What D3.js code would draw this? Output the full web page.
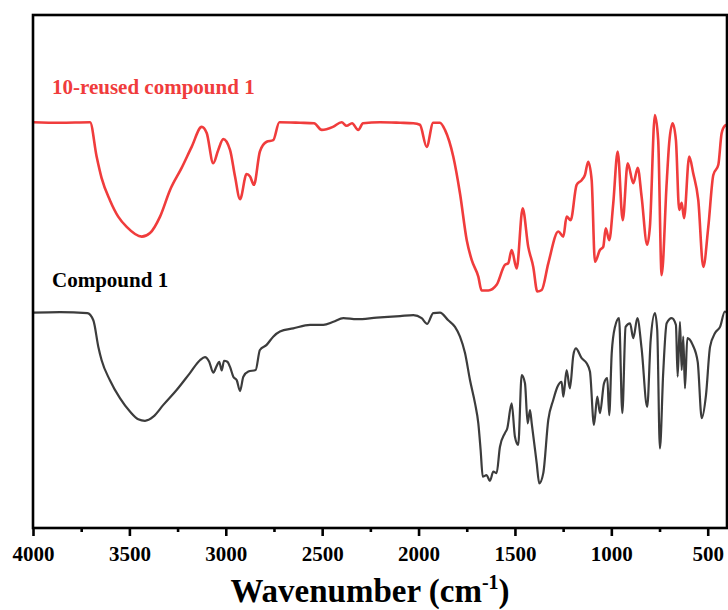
<!DOCTYPE html>
<html>
<head>
<meta charset="utf-8">
<script src="https://cdn.jsdelivr.net/npm/d3@7"></script>
<style>
  body { margin: 0; background: #fff; }
  text { font-family: "Liberation Serif", "Times New Roman", serif; font-weight: bold; }
</style>
</head>
<body>
<svg id="chart" width="728" height="610"></svg>
<script>
// wavenumber (cm-1), transmittance (a.u., offset)
var reusedSpectrum = [
  [4000,79.1],[3860,79.0],[3704,79.1],[3670,72.4],[3644,68.2],[3601,63.9],[3558,60.7],
  [3514,58.7],[3436,56.8],[3393,57.5],[3341,60.7],[3289,65.9],[3229,70.2],[3177,74.3],
  [3125,78.2],[3099,77.0],[3065,71.1],[3039,73.7],[3013,75.8],[2978,73.7],[2952,68.5],
  [2926,64.1],[2892,69.0],[2874,68.5],[2854,66.9],[2823,73.4],[2788,75.3],[2754,75.6],
  [2722,79.1],[2615,79.0],[2542,78.9],[2502,77.6],[2444,78.2],[2399,79.1],[2373,78.4],
  [2345,78.9],[2313,77.6],[2288,78.9],[2200,79.1],[2096,79.0],[2027,78.9],[1993,78.6],
  [1958,74.3],[1924,79.0],[1889,79.0],[1863,77.6],[1820,72.4],[1785,65.2],[1750,56.1],
  [1724,52.2],[1690,49.0],[1673,46.3],[1638,46.3],[1595,47.4],[1552,51.3],[1535,51.6],
  [1517,54.2],[1491,50.6],[1460,62.3],[1431,54.8],[1405,50.9],[1384,46.1],[1361,46.4],
  [1327,51.6],[1275,57.8],[1249,56.8],[1232,60.7],[1211,60.0],[1180,66.9],[1154,67.8],
  [1137,68.8],[1120,71.4],[1102,67.8],[1085,51.9],[1059,54.2],[1042,54.8],[1029,58.4],
  [1011,56.1],[990,63.3],[967,73.4],[941,60.0],[915,71.1],[886,67.2],[863,70.2],
  [843,64.6],[814,55.2],[800,58.7],[774,80.5],[757,75.6],[739,49.3],[713,67.2],
  [700,75.0],[682,78.9],[665,75.6],[648,62.0],[635,63.4],[623,60.4],[596,72.4],
  [575,69.1],[549,63.9],[523,50.9],[497,58.7],[471,68.8],[445,70.8],[428,76.9],
  [411,78.4],[400,78.6]
];

var compoundSpectrum = [
  [4000,42.0],[3860,42.1],[3718,41.9],[3687,40.5],[3661,35.3],[3644,32.7],[3601,28.8],
  [3549,25.3],[3497,22.7],[3454,21.2],[3419,20.9],[3376,21.7],[3324,24.0],[3255,26.9],
  [3186,30.2],[3134,32.7],[3108,33.3],[3086,32.4],[3065,30.3],[3047,31.6],[3034,32.4],
  [3021,30.7],[3009,32.6],[2992,32.4],[2978,31.4],[2961,29.5],[2943,28.8],[2926,26.7],
  [2909,29.5],[2883,30.5],[2845,30.8],[2823,34.7],[2788,35.7],[2754,37.3],[2719,38.3],
  [2650,38.9],[2563,39.6],[2494,39.6],[2442,40.2],[2390,40.9],[2321,40.7],[2217,41.0],
  [2096,41.3],[2027,41.5],[1984,40.9],[1955,39.8],[1924,41.9],[1889,42.0],[1846,40.5],
  [1811,39.2],[1785,37.3],[1759,34.1],[1733,28.8],[1707,24.3],[1690,20.4],[1678,15.2],
  [1667,10.0],[1647,10.3],[1630,9.2],[1612,11.0],[1595,10.7],[1578,15.8],[1552,18.5],
  [1540,19.4],[1517,24.3],[1500,17.8],[1483,16.2],[1465,29.8],[1448,28.2],[1434,20.4],
  [1422,23.0],[1413,20.4],[1387,12.6],[1374,8.7],[1353,10.7],[1327,21.1],[1301,25.0],
  [1280,27.5],[1258,28.5],[1249,25.6],[1232,30.8],[1215,27.2],[1197,33.7],[1184,35.0],
  [1154,33.1],[1128,32.1],[1111,30.5],[1090,20.1],[1073,25.6],[1059,22.4],[1038,28.2],
  [1021,29.2],[1011,22.0],[998,34.1],[981,39.2],[960,40.9],[943,22.4],[926,39.2],
  [903,39.9],[886,37.0],[865,40.9],[843,35.0],[814,23.6],[796,36.6],[774,41.9],
  [762,38.6],[748,15.5],[731,30.2],[713,39.9],[687,40.9],[665,39.6],[656,29.5],
  [644,40.2],[635,30.8],[627,37.3],[618,27.2],[606,37.0],[578,35.7],[552,32.4],
  [531,21.4],[509,25.9],[488,35.3],[462,38.0],[436,39.2],[411,42.2],[400,41.9]
];

var majorTicks = [4000, 3500, 3000, 2500, 2000, 1500, 1000, 500];
var minorTicks = [3750, 3250, 2750, 2250, 1750, 1250, 750];

var series = [
  {name: "10-reused compound 1", data: reusedSpectrum, color: "#f03c3c", width: 2.6},
  {name: "Compound 1", data: compoundSpectrum, color: "#3c3c3c", width: 2.2}
];

(function() {
  // plot box (note: "top" is reserved on window, so use a prefix)
  var plotLeft = 33, plotRight = 727, plotTop = 15, plotBottom = 528;

  var svg = d3.select("#chart");

  var x = d3.scaleLinear().domain([4000, 400]).range([plotLeft, plotRight]);
  var y = d3.scaleLinear().domain([0, 100]).range([plotBottom, plotTop]);

  var line = d3.line()
    .x(d => x(d[0]))
    .y(d => y(d[1]))
    .curve(d3.curveMonotoneX);

  // spectra
  svg.selectAll("path.spectrum")
    .data(series)
    .enter()
    .append("path")
    .attr("class", "spectrum")
    .attr("fill", "none")
    .attr("stroke", s => s.color)
    .attr("stroke-width", s => s.width)
    .attr("stroke-linejoin", "round")
    .attr("d", s => line(s.data));

  // frame
  svg.append("rect")
    .attr("x", plotLeft)
    .attr("y", plotTop)
    .attr("width", plotRight - plotLeft)
    .attr("height", plotBottom - plotTop)
    .attr("fill", "none")
    .attr("stroke", "#000")
    .attr("stroke-width", 2.6);

  // x axis, major and minor ticks
  var xAxis = svg.append("g")
    .attr("transform", `translate(0,${plotBottom})`)
    .call(d3.axisBottom(x).tickValues(majorTicks).tickSize(8).tickPadding(10).tickFormat(d3.format("d")));
  xAxis.select(".domain").remove();
  xAxis.selectAll("line").attr("stroke-width", 2.6);
  xAxis.selectAll("text")
    .attr("fill", "#000")
    .style("font-size", "21px")
    .style("font-family", "'Liberation Serif', 'Times New Roman', serif")
    .style("font-weight", "bold");

  var xMinor = svg.append("g")
    .attr("transform", `translate(0,${plotBottom})`)
    .call(d3.axisBottom(x).tickValues(minorTicks).tickSize(4).tickFormat(""));
  xMinor.select(".domain").remove();
  xMinor.selectAll("line").attr("stroke-width", 2.6);

  // series labels
  svg.append("text")
    .attr("x", 52)
    .attr("y", 94)
    .attr("fill", "#f03c3c")
    .style("font-size", "21px")
    .text(series[0].name);

  svg.append("text")
    .attr("x", 52)
    .attr("y", 287)
    .attr("fill", "#000")
    .style("font-size", "21px")
    .text(series[1].name);

  // axis title
  var title = svg.append("text")
    .attr("x", 370)
    .attr("y", 602)
    .attr("text-anchor", "middle")
    .attr("fill", "#000")
    .style("font-size", "33px");
  title.append("tspan").text("Wavenumber (cm");
  title.append("tspan").attr("dy", -13).style("font-size", "20px").text("-1");
  title.append("tspan").attr("dy", 13).text(")");
})();
</script>
</body>
</html>
